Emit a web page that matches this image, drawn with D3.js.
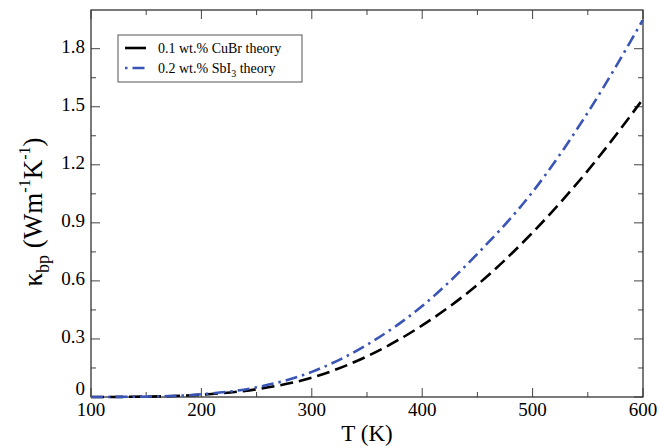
<!DOCTYPE html>
<html>
<head>
<meta charset="utf-8">
<script src="https://cdn.jsdelivr.net/npm/d3@7"></script>
<style>
  body { margin: 0; background: #fff; }
  text { font-family: "Liberation Serif", "DejaVu Serif", serif; }
</style>
</head>
<body>
<svg id="chart" width="664" height="447"></svg>
<script>
// temperatures (K) and kappa_bp values
const temps = [100, 150, 200, 250, 300, 350, 400, 450, 500, 550, 600];
const cuBr = [0, 0.002, 0.012, 0.04, 0.10, 0.21, 0.37, 0.58, 0.85, 1.17, 1.54];
const sbI3 = [0, 0.002, 0.014, 0.05, 0.13, 0.27, 0.47, 0.74, 1.06, 1.47, 1.95];
const xTicks = [100, 200, 300, 400, 500, 600];
const yTicks = [0, 0.3, 0.6, 0.9, 1.2, 1.5, 1.8];

const svg = d3.select("#chart");
const margin = { left: 91, right: 21, top: 10, bottom: 50 };
const width = 664, height = 447;

const x = d3.scaleLinear().domain([100, 600]).range([margin.left, width - margin.right]);
const y = d3.scaleLinear().domain([0, 2.0]).range([height - margin.bottom, margin.top]);

const x0 = x.range()[0], x1 = x.range()[1];
const y0 = y.range()[0], y1 = y.range()[1];

// inward ticks on all four sides
const g = svg.append("g").attr("stroke", "#444").attr("stroke-width", 1);
d3.range(100, 601, 50).forEach((t) => {
  const len = t % 100 === 0 ? 9 : 5;
  g.append("line").attr("x1", x(t)).attr("x2", x(t)).attr("y1", y0).attr("y2", y0 - len);
  g.append("line").attr("x1", x(t)).attr("x2", x(t)).attr("y1", y1).attr("y2", y1 + len);
});
d3.range(0, 13).map((i) => i * 0.15).forEach((v, i) => {
  const len = i % 2 === 0 ? 9 : 5;
  g.append("line").attr("y1", y(v)).attr("y2", y(v)).attr("x1", x0).attr("x2", x0 + len);
  g.append("line").attr("y1", y(v)).attr("y2", y(v)).attr("x1", x1).attr("x2", x1 - len);
});

svg.append("rect")
  .attr("x", x0).attr("y", y1)
  .attr("width", x1 - x0).attr("height", y0 - y1)
  .attr("fill", "none").attr("stroke", "#333").attr("stroke-width", 1.3);

// tick labels
svg.selectAll(".xl").data(xTicks).join("text")
  .attr("x", (d) => x(d)).attr("y", y0 + 19)
  .attr("text-anchor", "middle").attr("font-size", 19)
  .text((d) => d);
svg.selectAll(".yl").data(yTicks).join("text")
  .attr("x", x0 - 6).attr("y", (d) => (d === 0 ? y(d) - 2 : y(d) + 4))
  .attr("text-anchor", "end").attr("font-size", 19)
  .text((d) => (d === 0 ? "0" : d.toFixed(1)));

// axis titles
svg.append("text")
  .attr("x", (x0 + x1) / 2).attr("y", 441)
  .attr("text-anchor", "middle").attr("font-size", 23)
  .text("T (K)");

const yt = svg.append("text")
  .attr("transform", "translate(42,212) rotate(-90)")
  .attr("text-anchor", "middle").attr("font-size", 27);
yt.append("tspan").text("κ");
yt.append("tspan").attr("font-size", 18).attr("dy", 7).text("bp");
yt.append("tspan").attr("dy", -7).text(" (Wm");
yt.append("tspan").attr("font-size", 16).attr("dy", -12).text("-1");
yt.append("tspan").attr("dy", 12).text("K");
yt.append("tspan").attr("font-size", 16).attr("dy", -12).text("-1");
yt.append("tspan").attr("dy", 12).text(")");

// curves
const line = d3.line()
  .x((d) => x(d[0]))
  .y((d) => y(d[1]))
  .curve(d3.curveMonotoneX);

const series = [
  { name: "CuBr", values: cuBr, color: "#000", dash: "13,6" },
  { name: "SbI3", values: sbI3, color: "#3a55b5", dash: "12,5,2.5,5" },
];

series.forEach((s) => {
  svg.append("path")
    .datum(temps.map((t, i) => [t, s.values[i]]))
    .attr("d", line)
    .attr("fill", "none")
    .attr("stroke", s.color)
    .attr("stroke-width", 2.6)
    .attr("stroke-dasharray", s.dash);
});

// legend
const lg = svg.append("g");
lg.append("rect")
  .attr("x", 118).attr("y", 35).attr("width", 184).attr("height", 47)
  .attr("fill", "#fff").attr("stroke", "#555").attr("stroke-width", 1);
lg.append("line").attr("x1", 125).attr("x2", 146).attr("y1", 48).attr("y2", 48)
  .attr("stroke", "#000").attr("stroke-width", 2.6);
lg.append("line").attr("x1", 125).attr("x2", 146).attr("y1", 68).attr("y2", 68)
  .attr("stroke", series[1].color).attr("stroke-width", 2.6).attr("stroke-dasharray", "2.5,5,12,5");
lg.append("text").attr("x", 158).attr("y", 53).attr("font-size", 14).text("0.1 wt.% CuBr theory");
const l2 = lg.append("text").attr("x", 158).attr("y", 73).attr("font-size", 14);
l2.append("tspan").text("0.2 wt.% SbI");
l2.append("tspan").attr("font-size", 10).attr("dy", 4).text("3");
l2.append("tspan").attr("dy", -4).text(" theory");
</script>
</body>
</html>
